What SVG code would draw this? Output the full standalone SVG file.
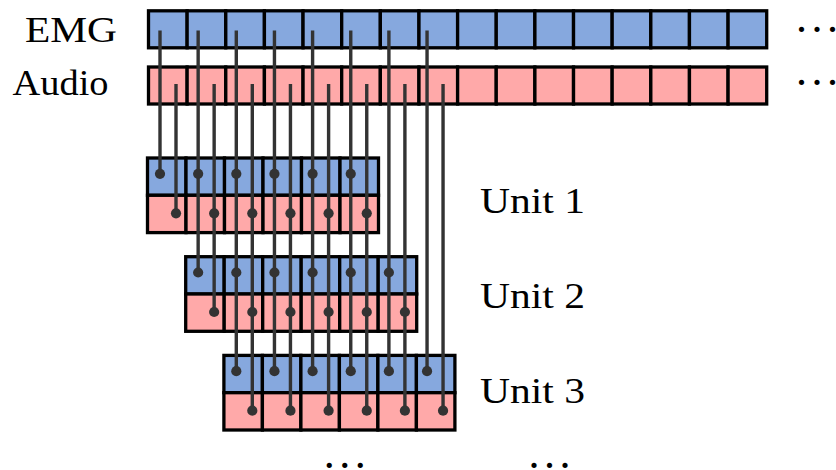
<svg xmlns="http://www.w3.org/2000/svg" width="836" height="470" viewBox="0 0 836 470">
  <style>
    .emg { fill: #86a8de; stroke: #000; stroke-width: 3.3; }
    .aud { fill: #ffa9a9; stroke: #000; stroke-width: 3.3; }
    .lbl { font-family: "Liberation Serif", "Times New Roman", serif; font-size: 36px; fill: #000; }
    .ulbl { font-family: "Liberation Serif", "Times New Roman", serif; font-size: 35px; fill: #000; }
    .dots { font-family: "Liberation Serif", "Times New Roman", serif; font-size: 44px; fill: #000; letter-spacing: 4.5px; }
    .wire { stroke: #333; stroke-width: 3.4; fill: none; }
    .pin { fill: #333; }
  </style>
  <defs>
    <!-- one sample cell of each stream -->
    <rect id="cellE" class="emg" width="38.6" height="37"/>
    <rect id="cellA" class="aud" width="38.6" height="37"/>
    <rect id="ucellE" class="emg" width="38.5" height="37.3"/>
    <rect id="ucellA" class="aud" width="38.5" height="37.3"/>
    <!-- a processing unit: six EMG cells over six audio cells -->
    <g id="unitCells">
      <use href="#ucellE" x="0"/><use href="#ucellE" x="38.5"/><use href="#ucellE" x="77"/>
      <use href="#ucellE" x="115.5"/><use href="#ucellE" x="154"/><use href="#ucellE" x="192.5"/>
      <use href="#ucellA" x="0" y="37.3"/><use href="#ucellA" x="38.5" y="37.3"/><use href="#ucellA" x="77" y="37.3"/>
      <use href="#ucellA" x="115.5" y="37.3"/><use href="#ucellA" x="154" y="37.3"/><use href="#ucellA" x="192.5" y="37.3"/>
    </g>
  </defs>

  <!-- EMG stream -->
  <g id="emg-stream">
    <text class="lbl" x="25" y="41.7" textLength="92" lengthAdjust="spacingAndGlyphs">EMG</text>
    <g transform="translate(148.5,10.8)">
      <use href="#cellE" x="0"/><use href="#cellE" x="38.64"/><use href="#cellE" x="77.28"/><use href="#cellE" x="115.92"/>
      <use href="#cellE" x="154.56"/><use href="#cellE" x="193.2"/><use href="#cellE" x="231.84"/><use href="#cellE" x="270.48"/>
      <use href="#cellE" x="309.12"/><use href="#cellE" x="347.76"/><use href="#cellE" x="386.4"/><use href="#cellE" x="425.04"/>
      <use href="#cellE" x="463.68"/><use href="#cellE" x="502.32"/><use href="#cellE" x="540.96"/><use href="#cellE" x="579.6"/>
    </g>
    <text class="dots" x="796" y="31.5">...</text>
  </g>

  <!-- Audio stream -->
  <g id="audio-stream">
    <text class="lbl" x="12.5" y="95" textLength="96" lengthAdjust="spacingAndGlyphs">Audio</text>
    <g transform="translate(148.5,67)">
      <use href="#cellA" x="0"/><use href="#cellA" x="38.64"/><use href="#cellA" x="77.28"/><use href="#cellA" x="115.92"/>
      <use href="#cellA" x="154.56"/><use href="#cellA" x="193.2"/><use href="#cellA" x="231.84"/><use href="#cellA" x="270.48"/>
      <use href="#cellA" x="309.12"/><use href="#cellA" x="347.76"/><use href="#cellA" x="386.4"/><use href="#cellA" x="425.04"/>
      <use href="#cellA" x="463.68"/><use href="#cellA" x="502.32"/><use href="#cellA" x="540.96"/><use href="#cellA" x="579.6"/>
    </g>
    <text class="dots" x="796" y="84.8">...</text>
  </g>

  <!-- Units -->
  <g id="unit1">
    <use href="#unitCells" transform="translate(147.5,158)"/>
    <text class="ulbl" x="480" y="213.3" textLength="105" lengthAdjust="spacingAndGlyphs">Unit 1</text>
  </g>
  <g id="unit2">
    <use href="#unitCells" transform="translate(185.7,256.7)"/>
    <text class="ulbl" x="480" y="308.3" textLength="105" lengthAdjust="spacingAndGlyphs">Unit 2</text>
  </g>
  <g id="unit3">
    <use href="#unitCells" transform="translate(223.9,355.4)"/>
    <text class="ulbl" x="480" y="403.3" textLength="105" lengthAdjust="spacingAndGlyphs">Unit 3</text>
  </g>

  <g id="more-units">
    <text class="dots" x="323.8" y="467.5">...</text>
    <text class="dots" x="528.5" y="467.5">...</text>
  </g>

  <!-- Connectors: each sample feeds every unit whose window covers it -->
  <g id="connectors">
    <!-- EMG samples -->
    <line class="wire" x1="160" y1="30.5" x2="160" y2="173.8"/>
    <line class="wire" x1="198.15" y1="30.5" x2="198.15" y2="272.5"/>
    <line class="wire" x1="236.3" y1="30.5" x2="236.3" y2="371.2"/>
    <line class="wire" x1="274.45" y1="30.5" x2="274.45" y2="371.2"/>
    <line class="wire" x1="312.6" y1="30.5" x2="312.6" y2="371.2"/>
    <line class="wire" x1="350.75" y1="30.5" x2="350.75" y2="371.2"/>
    <line class="wire" x1="388.9" y1="30.5" x2="388.9" y2="371.2"/>
    <line class="wire" x1="427.05" y1="30.5" x2="427.05" y2="371.2"/>
    <!-- Audio samples -->
    <line class="wire" x1="176" y1="84" x2="176" y2="213.3"/>
    <line class="wire" x1="214.15" y1="84" x2="214.15" y2="312"/>
    <line class="wire" x1="252.3" y1="84" x2="252.3" y2="410.7"/>
    <line class="wire" x1="290.45" y1="84" x2="290.45" y2="410.7"/>
    <line class="wire" x1="328.6" y1="84" x2="328.6" y2="410.7"/>
    <line class="wire" x1="366.75" y1="84" x2="366.75" y2="410.7"/>
    <line class="wire" x1="404.9" y1="84" x2="404.9" y2="410.7"/>
    <line class="wire" x1="443.05" y1="84" x2="443.05" y2="410.7"/>

    <!-- taps into Unit 1 -->
    <circle class="pin" cx="160" cy="173.8" r="5.1"/><circle class="pin" cx="198.15" cy="173.8" r="5.1"/>
    <circle class="pin" cx="236.3" cy="173.8" r="5.1"/><circle class="pin" cx="274.45" cy="173.8" r="5.1"/>
    <circle class="pin" cx="312.6" cy="173.8" r="5.1"/><circle class="pin" cx="350.75" cy="173.8" r="5.1"/>
    <circle class="pin" cx="176" cy="213.3" r="5.1"/><circle class="pin" cx="214.15" cy="213.3" r="5.1"/>
    <circle class="pin" cx="252.3" cy="213.3" r="5.1"/><circle class="pin" cx="290.45" cy="213.3" r="5.1"/>
    <circle class="pin" cx="328.6" cy="213.3" r="5.1"/><circle class="pin" cx="366.75" cy="213.3" r="5.1"/>

    <!-- taps into Unit 2 -->
    <circle class="pin" cx="198.15" cy="272.5" r="5.1"/><circle class="pin" cx="236.3" cy="272.5" r="5.1"/>
    <circle class="pin" cx="274.45" cy="272.5" r="5.1"/><circle class="pin" cx="312.6" cy="272.5" r="5.1"/>
    <circle class="pin" cx="350.75" cy="272.5" r="5.1"/><circle class="pin" cx="388.9" cy="272.5" r="5.1"/>
    <circle class="pin" cx="214.15" cy="312" r="5.1"/><circle class="pin" cx="252.3" cy="312" r="5.1"/>
    <circle class="pin" cx="290.45" cy="312" r="5.1"/><circle class="pin" cx="328.6" cy="312" r="5.1"/>
    <circle class="pin" cx="366.75" cy="312" r="5.1"/><circle class="pin" cx="404.9" cy="312" r="5.1"/>

    <!-- taps into Unit 3 -->
    <circle class="pin" cx="236.3" cy="371.2" r="5.1"/><circle class="pin" cx="274.45" cy="371.2" r="5.1"/>
    <circle class="pin" cx="312.6" cy="371.2" r="5.1"/><circle class="pin" cx="350.75" cy="371.2" r="5.1"/>
    <circle class="pin" cx="388.9" cy="371.2" r="5.1"/><circle class="pin" cx="427.05" cy="371.2" r="5.1"/>
    <circle class="pin" cx="252.3" cy="410.7" r="5.1"/><circle class="pin" cx="290.45" cy="410.7" r="5.1"/>
    <circle class="pin" cx="328.6" cy="410.7" r="5.1"/><circle class="pin" cx="366.75" cy="410.7" r="5.1"/>
    <circle class="pin" cx="404.9" cy="410.7" r="5.1"/><circle class="pin" cx="443.05" cy="410.7" r="5.1"/>
  </g>
</svg>
